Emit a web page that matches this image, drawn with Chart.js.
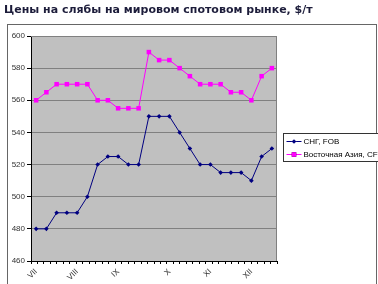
<!DOCTYPE html>
<html>
<head>
<meta charset="utf-8">
<script src="https://cdn.jsdelivr.net/npm/chart.js@4"></script>
<style>
  html, body { margin: 0; padding: 0; background: #fff; }
  #wrap { position: relative; width: 378px; height: 284px; overflow: hidden; }
  #title { position: absolute; left: 4px; top: 3px; font: bold 11px "DejaVu Sans", sans-serif; color: #1c1c3a; white-space: nowrap; }
  canvas { position: absolute; left: 0; top: 0; }
</style>
</head>
<body>
<div id="wrap">
  <canvas id="chart" width="378" height="284"></canvas>
  <div id="title">Цены на слябы на мировом спотовом рынке, $/т</div>
</div>
<script>
// weekly prices, months marked on the first week
var weeks = ["VII", "", "", "", "VIII", "", "", "", "IX", "", "", "", "", "X", "", "", "", "XI", "", "", "", "XII", "", ""];
var cisFob = [480, 480, 490, 490, 490, 500, 520, 525, 525, 520, 520, 550, 550, 550, 540, 530, 520, 520, 515, 515, 515, 510, 525, 530];
var asiaCfr = [560, 565, 570, 570, 570, 570, 560, 560, 555, 555, 555, 590, 585, 585, 580, 575, 570, 570, 570, 565, 565, 560, 575, 580];
var seriesNames = ["СНГ, FOB", "Восточная Азия, CFR"];
var yMin = 460, yMax = 600, yStep = 20;

var frame = {
  id: "frame",
  beforeDraw: function (chart) {
    var ctx = chart.ctx, a = chart.chartArea;
    ctx.save();
    ctx.strokeStyle = "#666";
    ctx.lineWidth = 1;
    ctx.strokeRect(7.5, 24.5, 369, 270);
    ctx.fillStyle = "#c0c0c0";
    ctx.fillRect(a.left, a.top, a.right - a.left, a.bottom - a.top);
    ctx.restore();
  },
  beforeDatasetsDraw: function (chart) {
    var ctx = chart.ctx, a = chart.chartArea;
    ctx.save();
    ctx.strokeStyle = "#808080";
    ctx.lineWidth = 1;
    ctx.beginPath();
    ctx.moveTo(a.left, Math.round(a.top) + 0.5);
    ctx.lineTo(Math.round(a.right) - 0.5, Math.round(a.top) + 0.5);
    ctx.lineTo(Math.round(a.right) - 0.5, a.bottom);
    ctx.stroke();
    ctx.restore();
  },
  afterDraw: function (chart) {
    var ctx = chart.ctx;
    var x = 283.5, y = 133.5;
    ctx.save();
    ctx.fillStyle = "#fff";
    ctx.fillRect(x, y, 100, 28);
    ctx.strokeStyle = "#333";
    ctx.strokeRect(x, y, 100, 28);
    ctx.font = "8px 'Liberation Sans', Arial, sans-serif";
    ctx.textBaseline = "middle";
    chart.data.datasets.forEach(function (ds, i) {
      var cy = y + 8 + i * 13;
      ctx.strokeStyle = ds.borderColor;
      ctx.beginPath();
      ctx.moveTo(x + 3, cy);
      ctx.lineTo(x + 18, cy);
      ctx.stroke();
      Chart.helpers.drawPoint(ctx, { pointStyle: ds.pointStyle, radius: ds.pointRadius, borderWidth: 0 }, x + 10.5, cy);
      ctx.fillStyle = ds.borderColor;
      ctx.fill();
      ctx.fillStyle = "#000";
      ctx.fillText(ds.label, x + 20, cy);
    });
    ctx.restore();
  }
};

new Chart(document.getElementById("chart"), {
  type: "line",
  data: {
    labels: weeks,
    datasets: [
      {
        label: seriesNames[0],
        data: cisFob,
        borderColor: "#000080",
        backgroundColor: "#000080",
        borderWidth: 1,
        pointStyle: "rectRot",
        pointRadius: 2.3,
        pointBorderWidth: 0,
        tension: 0
      },
      {
        label: seriesNames[1],
        data: asiaCfr,
        borderColor: "#ff00ff",
        backgroundColor: "#ff00ff",
        borderWidth: 1,
        pointStyle: "rect",
        pointRadius: 3.2,
        pointBorderWidth: 0,
        tension: 0
      }
    ]
  },
  options: {
    responsive: false,
    animation: false,
    layout: { padding: { left: 0, top: 36, right: 101, bottom: 0 } },
    plugins: {
      legend: { display: false },
      tooltip: { enabled: false }
    },
    scales: {
      x: {
        type: "category",
        offset: true,
        weight: 1,
        grid: { display: false },
        border: { display: false },
        ticks: {
          autoSkip: false,
          minRotation: 45,
          maxRotation: 45,
          padding: -6,
          color: "#333",
          font: { family: "'Liberation Sans', Arial, sans-serif", size: 8 }
        },
        afterFit: function (s) { s.height = 19; }
      },
      xt: {
        type: "linear",
        position: "bottom",
        weight: 0,
        min: 0,
        max: 38,
        grid: { drawOnChartArea: false, tickLength: 3, color: "#000" },
        border: { display: true, color: "#000" },
        ticks: { stepSize: 1, callback: function () { return ""; } },
        afterFit: function (s) { s.height = 4; }
      },
      y: {
        min: yMin,
        max: yMax,
        grid: { color: "#808080", tickColor: "#000", tickLength: 4 },
        border: { color: "#000" },
        ticks: {
          stepSize: yStep,
          padding: 2,
          color: "#333",
          font: { family: "'Liberation Sans', Arial, sans-serif", size: 8 }
        },
        afterFit: function (s) { s.width = 31; }
      }
    }
  },
  plugins: [frame]
});
</script>
</body>
</html>
